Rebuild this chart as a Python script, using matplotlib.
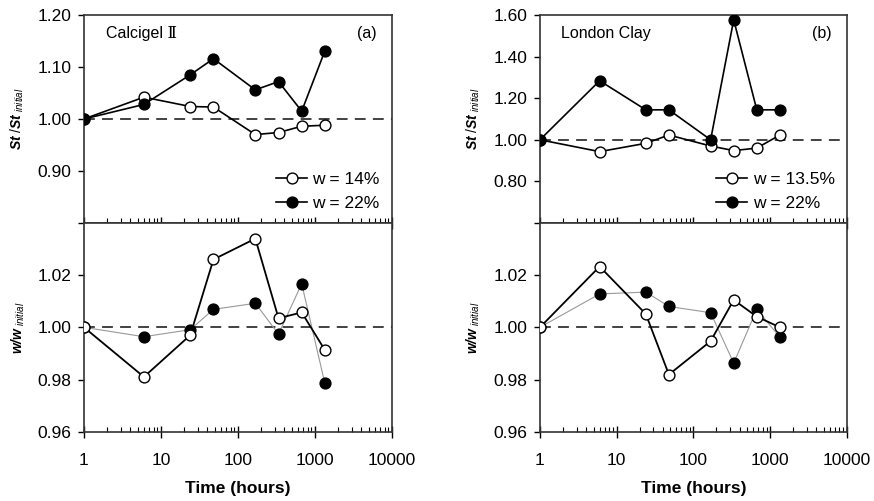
import matplotlib
matplotlib.use("Agg")
import matplotlib.pyplot as plt
from matplotlib.ticker import FixedLocator, LogLocator, NullFormatter

plt.rcParams["font.family"] = ["Liberation Sans", "DejaVu Sans"]
plt.rcParams["mathtext.fontset"] = "custom"
plt.rcParams["mathtext.rm"] = "Liberation Sans"
plt.rcParams["mathtext.it"] = "Liberation Sans:italic"
plt.rcParams["mathtext.bf"] = "Liberation Sans:italic:bold"

# time of each reading (hours)
TIME = [1, 6, 24, 48, 168, 336, 672, 1344]

# (a) Calcigel II
CAL_ST_W14 = [1.000, 1.042, 1.024, 1.023, 0.970, 0.974, 0.986, 0.988]
CAL_ST_W22 = [1.000, 1.028, 1.085, 1.116, 1.056, 1.072, 1.015, 1.131]
CAL_W_W14 = [1.000, 0.981, 0.997, 1.026, 1.034, 1.0035, 1.0057, 0.9913]
CAL_W_W22 = [1.000, 0.9964, 0.9991, 1.0069, 1.0092, 0.9974, 1.0167, 0.9785]

# (b) London Clay
LON_ST_W135 = [1.000, 0.943, 0.983, 1.023, 0.970, 0.948, 0.960, 1.023]
LON_ST_W22 = [1.000, 1.284, 1.144, 1.144, 1.000, 1.577, 1.144, 1.144]
LON_W_W135 = [1.000, 1.0233, 1.0051, 0.9819, 0.9947, 1.0105, 1.0041, 1.000]
LON_W_W22 = [1.000, 1.0128, 1.0135, 1.008, 1.0056, 0.9863, 1.0069, 0.9962]

XTICKS = [1, 10, 100, 1000, 10000]
XTICKLABELS = ["1", "10", "100", "1000", "10000"]

ST_LABEL = r"$\mathbf{St}\ /\mathbf{St}_{\mathit{\ initial}}$"
W_LABEL = r"$\mathbf{w/w}_{\mathit{\ initial}}$"

MS = 7.8


def style_axis(ax, ylim, yticks, bottom):
    ax.set_xscale("log")
    ax.set_xlim(1, 10000)
    ax.set_ylim(*ylim)
    ax.yaxis.set_major_locator(FixedLocator(yticks))
    ax.yaxis.set_major_formatter(
        plt.FuncFormatter(lambda v, p: "" if (not bottom and abs(v - ylim[0]) < 1e-9) else f"{v:.2f}"))
    ax.xaxis.set_major_locator(FixedLocator(XTICKS))
    ax.xaxis.set_minor_locator(LogLocator(base=10, subs=range(2, 10), numticks=20))
    ax.xaxis.set_minor_formatter(NullFormatter())
    ax.tick_params(axis="x", which="major", direction="inout", length=9, width=1)
    ax.tick_params(axis="x", which="minor", direction="in", length=3.5, width=0.8)
    ax.tick_params(axis="y", direction="out", length=4, width=1, labelsize=12.5, pad=5)
    if bottom:
        ax.set_xticklabels(XTICKLABELS, fontsize=12.5)
        ax.tick_params(axis="x", which="major", pad=11)
        ax.set_xlabel("Time (hours)", fontsize=12.5, fontweight="bold", labelpad=9)
    else:
        ax.set_xticklabels([])
    for s in ax.spines.values():
        s.set_linewidth(1.2)
        s.set_color("#333333")
    ax.axhline(1.0, color="#333333", lw=1.3, ls=(0, (6, 4)), zorder=1)


def plot_series(ax, y, filled, color, lw, label=None):
    ax.plot(TIME, y, "-o", color=color, lw=lw, ms=MS,
            mfc="black" if filled else "white", mec="black", mew=1.0,
            label=label, zorder=3)


fig = plt.figure(figsize=(8.74, 5.01), dpi=100)

L1, W1 = 0.0961, 0.3524
L2, W2 = 0.6178, 0.3510
B_BOT, H_BOT = 0.1383, 0.4167
B_TOP, H_TOP = 0.555, 0.415

# (a) top
ax = fig.add_axes([L1, B_TOP, W1, H_TOP])
style_axis(ax, (0.80, 1.20), [0.80, 0.90, 1.00, 1.10, 1.20], False)
plot_series(ax, CAL_ST_W14, False, "black", 1.2, "w = 14%")
plot_series(ax, CAL_ST_W22, True, "black", 1.2, "w = 22%")
ax.set_ylabel(ST_LABEL, fontsize=10, labelpad=8)
ax.text(0.07, 0.89, "Calcigel Ⅱ", transform=ax.transAxes, fontsize=11.5,
        family=["Liberation Sans", "DejaVu Serif"])
ax.text(0.95, 0.89, "(a)", transform=ax.transAxes, fontsize=11.5, ha="right")
ax.legend(loc="lower right", frameon=False, fontsize=12.5, handlelength=1.8,
          handletextpad=0.3, labelspacing=0.5, borderaxespad=0.3)

# (a) bottom
ax = fig.add_axes([L1, B_BOT, W1, H_BOT])
style_axis(ax, (0.96, 1.04), [0.96, 0.98, 1.00, 1.02], True)
plot_series(ax, CAL_W_W22, True, "#999999", 0.8)
plot_series(ax, CAL_W_W14, False, "black", 1.3)
ax.set_ylabel(W_LABEL, fontsize=10, labelpad=8)

# (b) top
ax = fig.add_axes([L2, B_TOP, W2, H_TOP])
style_axis(ax, (0.60, 1.60), [0.60, 0.80, 1.00, 1.20, 1.40, 1.60], False)
plot_series(ax, LON_ST_W135, False, "black", 1.2, "w = 13.5%")
plot_series(ax, LON_ST_W22, True, "black", 1.2, "w = 22%")
ax.set_ylabel(ST_LABEL, fontsize=10, labelpad=8)
ax.text(0.07, 0.89, "London Clay", transform=ax.transAxes, fontsize=11.5)
ax.text(0.95, 0.89, "(b)", transform=ax.transAxes, fontsize=11.5, ha="right")
ax.legend(loc="lower right", frameon=False, fontsize=12.5, handlelength=1.8,
          handletextpad=0.3, labelspacing=0.5, borderaxespad=0.3)

# (b) bottom
ax = fig.add_axes([L2, B_BOT, W2, H_BOT])
style_axis(ax, (0.96, 1.04), [0.96, 0.98, 1.00, 1.02], True)
plot_series(ax, LON_W_W22, True, "#999999", 0.8)
plot_series(ax, LON_W_W135, False, "black", 1.3)
ax.set_ylabel(W_LABEL, fontsize=10, labelpad=8)

fig.savefig("out.png", dpi=100)
